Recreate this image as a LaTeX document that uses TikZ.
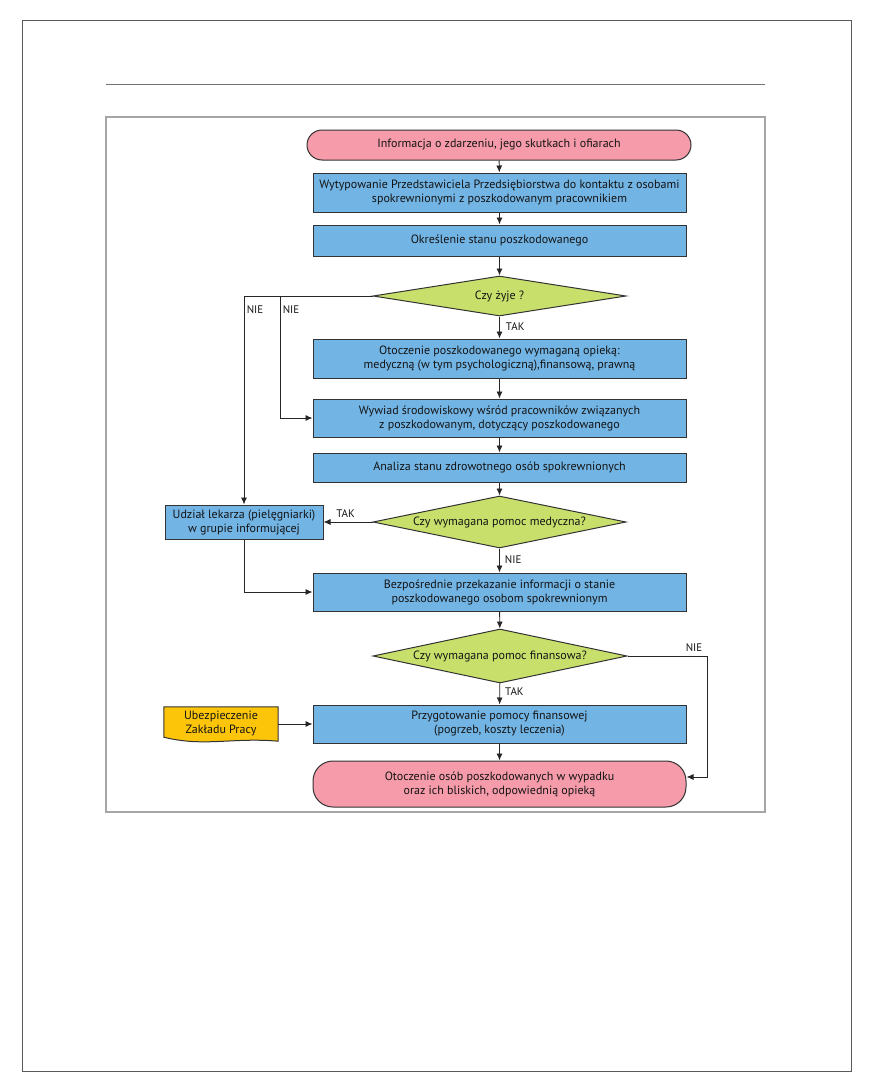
\documentclass[tikz,border=0pt]{standalone}
\usepackage{fontspec}
\setmainfont{PT Sans}
\usetikzlibrary{shapes.geometric,arrows.meta,calc}
\definecolor{pinkc}{HTML}{F59BAA}
\definecolor{bluec}{HTML}{72B4E4}
\definecolor{greenc}{HTML}{C8E06B}
\definecolor{yellowc}{HTML}{FDC50A}
\definecolor{edgec}{HTML}{333333}
\begin{document}
\begin{tikzpicture}[x=1pt,y=-1pt,
  every node/.style={font=\fontsize{12}{14}\selectfont, text=black!92},
  procbox/.style={draw=edgec, line width=1pt, fill=bluec, minimum width=373pt, align=center, inner sep=0pt},
  termbox/.style={draw=edgec, line width=1pt, fill=pinkc, minimum width=373pt, align=center, inner sep=0pt, rounded corners=15pt},
  sidebox/.style={draw=edgec, line width=1pt, fill=bluec, minimum width=158pt, minimum height=34pt, align=center, inner sep=0pt},
  decision/.style={draw=edgec, line width=1pt, fill=greenc, shape=diamond, inner sep=0pt, minimum width=253pt},
  arr/.style={draw=black!85, line width=0.9pt, -{Latex[length=7pt,width=6pt]}},
  lbl/.style={font=\fontsize{11}{12}\selectfont, inner sep=0pt},
  frame/.style={draw=black!65, line width=1pt}
]
\useasboundingbox (0,0) rectangle (872,1092);
% page frame
\draw[frame] (22,20) rectangle (851,1071);
\draw[draw=black!55, line width=1pt] (106,84) -- (765,84);
\draw[draw=black!35, line width=1.2pt] (106,117) rectangle (765,812);

% nodes
\node[termbox, minimum width=384pt, minimum height=30pt] (start) at (499,145) {Informacja o zdarzeniu, jego skutkach i ofiarach};
\node[procbox, minimum height=39pt] (b2) at (499.5,192.5) {Wytypowanie Przedstawiciela Przedsiębiorstwa do kontaktu z osobami\\spokrewnionymi z poszkodowanym pracownikiem};
\node[procbox, minimum height=31pt] (b3) at (499.5,240.5) {Określenie stanu poszkodowanego};
\node[decision, minimum height=40pt, label={center:Czy żyje ?}] (d1) at (499.5,296) {};
\node[procbox, minimum height=39pt] (b4) at (499.5,358.5) {Otoczenie poszkodowanego wymaganą opieką:\\medyczną (w tym psychologiczną),finansową, prawną};
\node[procbox, minimum height=38pt] (b5) at (499.5,418) {Wywiad środowiskowy wśród pracowników związanych\\z poszkodowanym, dotyczący poszkodowanego};
\node[procbox, minimum height=29pt] (b6) at (499.5,467.5) {Analiza stanu zdrowotnego osób spokrewnionych};
\node[decision, minimum height=52pt, label={center:Czy wymagana pomoc medyczna?}] (d2) at (499.5,522) {};
\node[sidebox] (lb) at (244,522) {Udział lekarza (pielęgniarki)\\w grupie informującej};
\node[procbox, minimum height=38pt] (b7) at (499.5,592) {Bezpośrednie przekazanie informacji o stanie\\poszkodowanego osobom spokrewnionym};
\node[decision, minimum height=54pt, minimum width=254pt, label={center:Czy wymagana pomoc finansowa?}] (d3) at (500,656) {};
\node[procbox, minimum height=38pt] (b8) at (499.5,724) {Przygotowanie pomocy finansowej\\(pogrzeb, koszty leczenia)};
\node[minimum width=114pt, minimum height=34pt, inner sep=0pt, align=center] (doc) at (221,724) {};
\node[termbox, rounded corners=20pt, minimum height=46pt] (end) at (499.5,784) {Otoczenie osób poszkodowanych w wypadku\\oraz ich bliskich, odpowiednią opieką};

% document shape
\filldraw[fill=yellowc, draw=edgec, line width=1pt]
  (doc.north west) -- (doc.north east) -- (doc.south east)
  .. controls ([xshift=-45pt,yshift=4pt]doc.south east) and ([xshift=40pt,yshift=-6pt]doc.south west) .. ([yshift=4pt]doc.south west) -- cycle;
\node[align=center, inner sep=0pt] (doctext) at ([yshift=1pt]doc.center) {Ubezpieczenie\\Zakładu Pracy};

% connectors
\draw[arr] (start) -- (b2);
\draw[arr] (b2) -- (b3);
\draw[arr] (b3) -- (d1);
\draw[arr] (d1) -- node[lbl, right=6pt, pos=0.45] {TAK} (b4);
\draw[arr] (b4) -- (b5);
\draw[arr] (b5) -- (b6);
\draw[arr] (b6) -- (d2);
\coordinate (br) at (280,296);
\draw[arr] (d1.west) -| (lb.north);
\draw[arr] (br) |- (b5.west);
\node[lbl] (nie1) at (255,310) {NIE};
\node[lbl] (nie2) at (291,310) {NIE};
\draw[arr] (d2.west) -- node[lbl, above=4pt, pos=0.55] {TAK} (lb.east);
\draw[arr] (d2) -- node[lbl, right=5pt, pos=0.45] {NIE} (b7);
\draw[arr] (lb.south) |- (b7.west);
\draw[arr] (b7) -- (d3);
\draw[arr] (d3) -- node[lbl, right=5pt, pos=0.4] {TAK} (b8);
\coordinate (rc) at (707,656);
\draw[arr] (d3.east) -- (rc) |- ([yshift=7pt]end.east);
\node[lbl] (nie4) at (694,648) {NIE};
\draw[arr] (doc.east) -- (b8.west);
\draw[arr] (b8) -- (end);
\end{tikzpicture}
\end{document}
